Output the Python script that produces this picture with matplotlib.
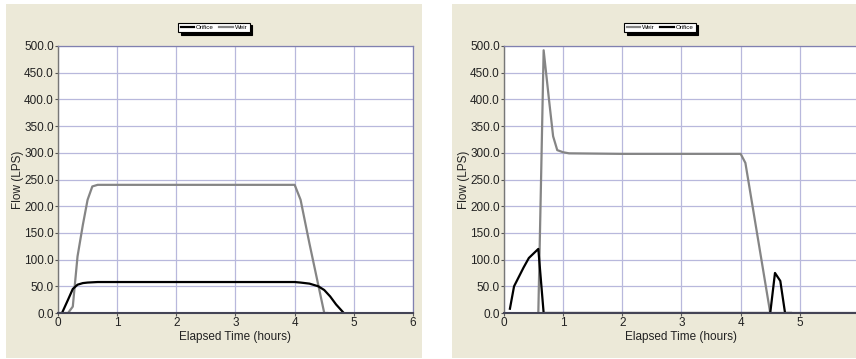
import matplotlib
matplotlib.use("Agg")
import matplotlib.pyplot as plt
from matplotlib.patches import Rectangle

plt.rcParams['font.family'] = ['Liberation Sans', 'DejaVu Sans']

# Left chart data
l_weir_t = [0.0, 0.17, 0.25, 0.33, 0.42, 0.5, 0.58, 0.67, 1.0, 2.0, 3.0, 4.0, 4.1, 4.25, 4.5, 4.55]
l_weir_q = [0.0, 0.0, 12.0, 106.0, 165.0, 212.0, 237.0, 240.0, 240.0, 240.0, 240.0, 240.0, 212.0, 130.0, 0.0, 0.0]
l_orif_t = [0.08, 0.17, 0.25, 0.33, 0.42, 0.5, 0.67, 1.0, 2.0, 3.0, 4.0, 4.1, 4.25, 4.4, 4.5, 4.6, 4.7, 4.83]
l_orif_q = [3.0, 25.0, 45.0, 53.0, 56.0, 57.0, 58.0, 58.0, 58.0, 58.0, 58.0, 57.0, 55.0, 50.0, 43.0, 31.0, 16.0, 0.0]

# Right chart data
r_weir_t = [0.58, 0.63, 0.67, 0.76, 0.83, 0.9, 1.0, 1.1, 2.0, 3.0, 4.0, 4.08, 4.5, 6.0]
r_weir_q = [0.0, 270.0, 492.0, 400.0, 331.0, 305.0, 301.0, 299.0, 298.0, 298.0, 298.0, 281.0, 0.0, 0.0]
r_orif_t = [0.1, 0.17, 0.33, 0.42, 0.58, 0.67, 1.0, 4.5, 4.58, 4.67, 4.75, 4.85]
r_orif_q = [8.0, 50.0, 85.0, 103.0, 120.0, 0.0, 0.0, 0.0, 75.0, 60.0, 0.0, 0.0]

x_ticks = [0, 1, 2, 3, 4, 5, 6]
y_ticks = [0, 50, 100, 150, 200, 250, 300, 350, 400, 450, 500]

W, H = 856, 359
fig = plt.figure(figsize=(W / 100, H / 100), dpi=100)
fig.patch.set_facecolor('white')

BG = '#ECE9D8'
GRID = '#B8B8DC'
GRAY = '#858585'

def px_rect(x0, y0, x1, y1):
    return [x0 / W, 1 - y1 / H, (x1 - x0) / W, (y1 - y0) / H]

for (x0, x1) in [(6, 422), (452, 868)]:
    r = px_rect(x0, 4, x1, 358)
    fig.patches.append(Rectangle((r[0], r[1]), r[2], r[3], transform=fig.transFigure,
                                 facecolor=BG, edgecolor='none', zorder=-10))

def make_ax(x0, series, legend_order, show_last=True):
    ax = fig.add_axes(px_rect(x0, 46, x0 + 355, 313))
    ax.set_facecolor('white')
    ax.set_xlim(0, 6)
    ax.set_ylim(0, 500)
    ax.set_xticks(x_ticks)
    labels = [str(v) for v in x_ticks]
    if not show_last:
        labels[-1] = ''
    ax.set_xticklabels(labels)
    ax.set_yticks(y_ticks)
    ax.set_yticklabels([f"{v:.1f}" for v in y_ticks])
    ax.grid(True, color=GRID, linewidth=0.9)
    ax.set_axisbelow(True)
    ax.tick_params(labelsize=8.5, length=2, width=0.8, pad=1, colors='#555555')
    ax.tick_params(labelcolor='#222222')
    for s in ['top', 'right']:
        ax.spines[s].set_color('#8080B0')
        ax.spines[s].set_linewidth(0.9)
    ax.spines['left'].set_color('#777777')
    ax.spines['left'].set_linewidth(1.0)
    ax.spines['bottom'].set_color('#444455')
    ax.spines['bottom'].set_linewidth(1.5)
    ax.set_xlabel('Elapsed Time (hours)', fontsize=8.5, labelpad=1, color='#222222')
    ax.set_ylabel('Flow (LPS)', fontsize=8.5, labelpad=0, color='#222222')
    handles = {}
    for name, t, q, c in series:
        h, = ax.plot(t, q, color=c, linewidth=1.6, clip_on=True)
        handles[name] = h
    hs = [handles[n] for n in legend_order]
    leg = fig.legend(hs, legend_order, loc='center',
                     bbox_to_anchor=((x0 + 156) / W, 1 - 27.5 / H),
                     ncol=2, fontsize=4.5, frameon=True, fancybox=False,
                     shadow={'color': 'black', 'alpha': 1.0}, edgecolor='black',
                     handlelength=2.2, handletextpad=0.3, columnspacing=0.8,
                     borderpad=0.35, borderaxespad=0)
    leg.get_frame().set_linewidth(0.8)
    return ax

make_ax(58, [('Weir', l_weir_t, l_weir_q, GRAY), ('Orifice', l_orif_t, l_orif_q, 'black')],
        ['Orifice', 'Weir'])
make_ax(504, [('Weir', r_weir_t, r_weir_q, GRAY), ('Orifice', r_orif_t, r_orif_q, 'black')],
        ['Weir', 'Orifice'], show_last=False)

fig.savefig('out.png', dpi=100)
